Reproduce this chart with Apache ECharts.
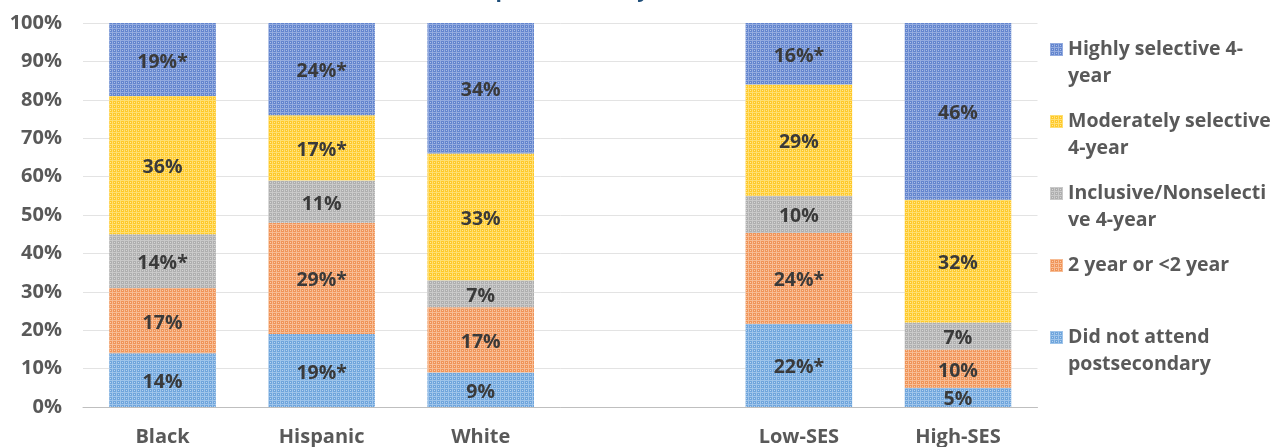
<!DOCTYPE html>
<html>
<head>
<meta charset="utf-8">
<script src="https://cdn.jsdelivr.net/npm/echarts@6/dist/echarts.min.js"></script>
<style>
html,body{margin:0;padding:0;background:#fff;}
#chart{width:1281px;height:447px;}
</style>
</head>
<body>
<div id="chart"></div>
<script>
// ---- data ----
const categories = ['Black', 'Hispanic', 'White', '', 'Low-SES', 'High-SES'];
const seriesNames = ['Did not attend postsecondary', '2 year or <2 year', 'Inclusive/Nonselective 4-year', 'Moderately selective 4-year', 'Highly selective 4-year'];
const notAttend  = [14, 19, 9,  null, 21.7, 5];
const twoYear    = [17, 29, 17, null, 23.6, 10];
const inclusive  = [14, 11, 7,  null, 9.7,  7];
const moderately = [36, 17, 33, null, 29,   32];
const highly     = [19, 24, 34, null, 16,   46];
// significance markers (asterisks)
const notAttendStar  = [0, 1, 0, 0, 1, 0];
const twoYearStar    = [0, 1, 0, 0, 1, 0];
const inclusiveStar  = [1, 0, 0, 0, 0, 0];
const moderatelyStar = [0, 1, 0, 0, 0, 0];
const highlyStar     = [1, 1, 0, 0, 1, 0];
const yTicks = [0, 10, 20, 30, 40, 50, 60, 70, 80, 90, 100];
const titleText = 'First postsecondary institution attended';

// ---- styles ----
function makePattern(base, light, dot) {
  const c = document.createElement('canvas');
  c.width = 4; c.height = 4;
  const g = c.getContext('2d');
  g.fillStyle = base; g.fillRect(0, 0, 4, 4);
  g.fillStyle = light; g.fillRect(0, 0, 4, 1); g.fillRect(0, 0, 1, 4);
  g.fillStyle = dot; g.fillRect(2, 2, 1, 1);
  return { image: c, repeat: 'repeat' };
}
const fills = [
  makePattern('#6FA5DC', '#9EC4EA', '#B8D4F0'),
  makePattern('#F09458', '#F7BC94', '#F9CCAA'),
  makePattern('#AFAFAF', '#C9C9C9', '#D6D6D6'),
  makePattern('#FFC929', '#FFDF72', '#FFE89A'),
  makePattern('#6385CE', '#93ABDF', '#ADC0E7')
];
const dataSets = [notAttend, twoYear, inclusive, moderately, highly];
const starSets = [notAttendStar, twoYearStar, inclusiveStar, moderatelyStar, highlyStar];
const legendText = {
  'Highly selective 4-year': '\nHighly selective 4-\nyear',
  'Moderately selective 4-year': '\nModerately selective\n4-year',
  'Inclusive/Nonselective 4-year': '\nInclusive/Nonselecti\nve 4-year',
  '2 year or <2 year': '\n2 year or <2 year\n',
  'Did not attend postsecondary': '\nDid not attend\npostsecondary'
};
const FONT = '"Open Sans", "Noto Sans", sans-serif';

const series = seriesNames.map((name, si) => ({
  name: name,
  type: 'bar',
  stack: 'total',
  barCategoryGap: '33%',
  data: dataSets[si],
  itemStyle: { color: fills[si] },
  label: {
    show: true,
    position: 'inside',
    offset: [0, 2.5],
    color: '#3A3A3A',
    fontFamily: FONT,
    fontWeight: 'bold',
    fontSize: 19.5,
    formatter: p => (p.value == null ? '' : Math.round(p.value) + '%' + (starSets[si][p.dataIndex] ? '*' : ''))
  },
  emphasis: { disabled: true }
}));

const chart = echarts.init(document.getElementById('chart'), null, { renderer: 'canvas' });
chart.setOption({
  animation: false,
  backgroundColor: '#ffffff',
  title: {
    text: titleText,
    left: 443,
    top: -19,
    padding: 0,
    textStyle: { color: '#1F4E79', fontFamily: FONT, fontWeight: 'bold', fontSize: 21 }
  },
  grid: { left: 83, right: 243.5, top: 23, bottom: 40, containLabel: false },
  legend: {
    orient: 'vertical',
    left: 1050,
    top: 9,
    padding: 0,
    itemWidth: 13,
    itemHeight: 13,
    itemGap: -9,
    icon: 'rect',
    selectedMode: false,
    data: seriesNames.slice().reverse(),
    formatter: n => legendText[n],
    textStyle: { color: '#595959', fontFamily: FONT, fontWeight: 'bold', fontSize: 19.5, lineHeight: 27 }
  },
  xAxis: {
    type: 'category',
    data: categories,
    axisLine: { lineStyle: { color: '#BFBFBF', width: 1 } },
    axisTick: { show: false },
    axisLabel: { color: '#595959', fontFamily: FONT, fontWeight: 'bold', fontSize: 20, margin: 20, interval: 0 }
  },
  yAxis: {
    type: 'value',
    min: yTicks[0],
    max: yTicks[yTicks.length - 1],
    interval: yTicks[1] - yTicks[0],
    axisLine: { show: false },
    axisTick: { show: false },
    splitLine: { lineStyle: { color: '#E3E3E3', width: 1 } },
    axisLabel: { formatter: '{value}%', color: '#595959', fontFamily: FONT, fontWeight: 'bold', fontSize: 20, margin: 21 }
  },
  series: series
});
</script>
</body>
</html>
